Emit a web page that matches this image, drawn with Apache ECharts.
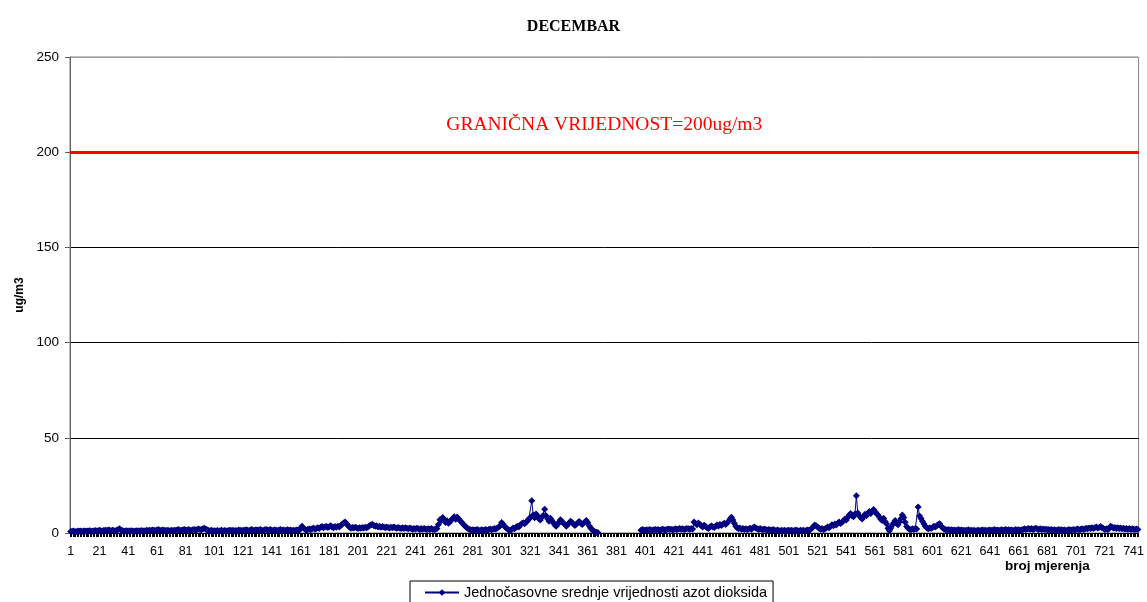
<!DOCTYPE html>
<html>
<head>
<meta charset="utf-8">
<title>DECEMBAR</title>
<script src="https://cdn.jsdelivr.net/npm/echarts@6/dist/echarts.min.js"></script>
<style>
  html, body { margin: 0; padding: 0; background: #fff; }
  #chart { width: 1147px; height: 602px; }
</style>
</head>
<body>
<div id="chart"></div>
<script>
// hourly NO2 averages, December (744 measurements), null = no data
const no2 = [
  0.8,0.9,1,0.8,0.7,1,0.9,1,0.8,1.1, 1,0.9,1,1.2,1,0.9,1.1,1.3,1,1.2,
  1.4,1.2,1,1.3,1.5,1.2,1.6,1.4,1.2,1.5, 1.3,1.1,1.4,1.9,2.2,1.6,1.2,1,1.1,1.2,
  1,1.1,1.2,1,0.9,1.1,1.2,1,1.1,1.3, 1,1.2,1.1,1.4,1.2,1.5,1.3,1.6,1.5,1.2,
  1.6,1.8,1.5,1.3,1.6,1.4,1.2,1.5,1.3,1.1, 1.4,1.2,1.5,1.3,1.6,1.8,1.5,1.3,1.6,1.9,
  1.6,1.4,1.8,1.5,1.3,1.7,1.9,1.6,1.8,2.1, 1.9,1.7,2.2,2.5,2.1,1.6,1.3,1.2,1.4,1.1,
  1.2,1,1.3,1.1,1.2,1.4,1.1,1.3,1.2,1, 1.3,1.5,1.2,1.4,1.1,1.3,1.2,1.6,1.4,1.2,
  1.5,1.3,1.7,1.4,1.2,1.6,1.9,1.5,1.3,1.7, 1.4,1.6,1.8,1.5,1.3,1.7,1.9,1.6,1.4,1.8,
  1.5,1.3,1.7,1.5,1.2,1.6,1.8,1.4,1.6,1.3, 1.5,1.7,1.4,1.6,1.3,1.5,1.2,1.6,1.4,1.3,
  2.5,3.5,2.8,2,1.5,1.8,2.1,1.7,2.2,2.6, 2,2.4,2.8,2.3,3,3.4,2.7,3.1,3.5,2.9,
  3.3,3.8,3.2,2.8,3.4,3,3.6,3.2,3.9,4.6, 5.2,5.8,4.9,4,3.1,2.5,2.9,2.6,3,2.7,
  2.4,2.8,2.5,2.9,2.6,3,2.7,3.2,3.8,4.2, 4.6,4,3.5,3.8,3.2,3.6,3,3.4,3.1,2.8,
  3.2,2.9,2.6,3,2.7,3.1,2.8,2.5,2.9,2.6, 2.3,2.7,2.4,2.8,2.5,2.2,2.6,2.3,2,2.4,
  2.1,2.5,2.2,1.9,2.3,2,2.4,2.1,1.8,2.2, 1.9,2.3,2,1.8,2.1,2.4,4.5,7,6.5,8.2,
  7,5.5,6.4,5.1,5.8,6.8,7.6,8.5,7.2,8.4, 7.5,6.6,5.8,4.9,4.1,3.3,2.6,2.1,1.8,1.5,
  1.7,1.4,1.6,1.9,1.5,1.3,1.7,1.4,1.6,1.9, 1.5,1.8,2.1,1.7,2,2.4,2.1,2.6,3.2,3.8,
  5.5,4.6,3.6,2.8,2.1,1.6,1.3,1.9,2.6,2.2, 3,3.6,3.1,4.2,4.8,5.4,4.9,5.6,6.3,7.5,
  8,17,9.5,8,10,9,7.5,6.8,8.4,9.2, 12.5,9,7.5,6.2,7.8,6.6,5.4,4.2,3.5,4.6,
  5.8,6.9,6.1,5.2,4.4,3.6,4.5,5.3,6.2,5.5, 4.7,3.9,4.6,5.4,6,5.2,4.4,5.1,5.8,6.6,
  5.4,3.8,2.6,1.8,1.1,0.6,0.3,0.2,null,null, null,null,null,null,null,null,null,null,null,null,
  null,null,null,null,null,null,null,null,null,null, null,null,null,null,null,null,null,1.5,1.8,1.6,
  1.4,1.7,1.5,1.8,1.6,1.4,1.7,1.9,1.6,1.8, 1.5,1.7,2,1.8,1.6,1.9,2.1,1.8,2,1.7,
  1.9,2.2,1.9,2.1,2.3,2,2.2,1.9,2.1,2.4, 2.2,2,2.3,2.1,5.8,5,4.3,5.2,4.6,3.8,
  3.2,4.1,3.5,2.8,2.4,3.1,3.7,3.3,2.9,3.6, 4.2,3.7,4.4,3.9,4.6,5.1,4.5,5.3,6.2,7.4,
  8.3,6.8,5.1,3.6,2.7,2.2,2.6,2,2.4,1.9, 2.2,1.8,2.1,2.5,2,2.7,3.2,2.6,2.2,1.9,
  2.3,2,1.7,2.1,1.8,1.5,1.9,1.6,1.4,1.8, 1.5,1.2,1.6,1.3,1.1,1.5,1.2,1.4,1.1,1.3,
  1.5,1.2,1.4,1.1,1.3,1.6,1.2,1,1.4,1.2, 1.5,1.1,1.3,1.6,1.4,1.8,2.5,3.3,4.2,3.8,
  3.1,2.5,2,2.3,1.8,2.1,2.6,3.2,2.7,3.6, 4.3,3.8,4.7,4.2,5.1,5.8,5,5.6,6.3,7.4,
  6.8,8.1,9.5,10.2,9,8.5,10,19.5,10.5,9, 8.2,7.3,8.6,9.8,9.1,10.4,11.3,10.2,11.6,12.3,
  11.1,10.2,9.5,8.4,7.2,6.5,7.8,6.1,4.8,2.5, 1.2,2.6,4.1,5.3,6.5,5.2,4.3,5.8,7.5,9.4,
  8.2,5.6,3.4,2.5,2,1.7,2.2,1.9,2.4,2.1, 13.6,8.9,7.6,6.2,4.8,3.6,2.7,2.2,2.6,2.3,
  2.9,3.5,3.1,3.8,4.4,4.8,3.6,2.7,2.1,1.8, 1.6,1.9,1.5,1.7,1.4,1.6,1.3,1.5,1.8,1.4,
  1.6,1.3,1.5,1.2,1.4,1.7,1.3,1.5,1.2,1.4, 1.1,1.3,1.5,1.2,1.4,1.6,1.3,1.5,1.2,1.4,
  1.6,1.3,1.5,1.8,1.4,1.6,1.3,1.5,1.7,1.4, 1.6,1.9,1.5,1.7,1.4,1.6,1.3,1.5,1.8,1.5,
  1.7,1.4,1.6,1.9,2.2,1.8,2.1,2.4,2,2.3, 1.9,2.2,2.5,2.1,1.8,2.2,1.9,2.1,1.8,2,
  1.7,1.9,1.6,1.8,1.5,1.7,1.4,1.6,1.9,1.5, 1.7,1.4,1.6,1.3,1.5,1.8,1.4,1.6,1.9,1.6,
  1.8,2.1,1.7,1.9,2.2,1.8,2.1,2.5,2.2,2.6, 2.3,2.8,2.4,2.7,3.1,2.6,2.9,3.4,2.8,2.3,
  1.9,2.2,1.8,2.3,3.5,3.1,2.6,2.9,2.4,2.7, 2.3,2.6,2.2,2.5,2.1,2.4,2,2.3,1.9,2.2,
  2,1.8,2.1,1.9
];
// measurement numbers 1..744
const mjerenja = no2.map((v, i) => String(i + 1));
const limitValue = 200;
const limitText = 'GRANIČNA VRIJEDNOST=200ug/m3';
const seriesName = 'Jednočasovne srednje vrijednosti azot dioksida';

const chart = echarts.init(document.getElementById('chart'), null, { renderer: 'canvas' });

const option = {
  animation: false,
  backgroundColor: '#fff',
  textStyle: { fontFamily: 'Liberation Sans, Arial, sans-serif' },
  title: {
    text: 'DECEMBAR',
    left: 'center',
    top: 14,
    textStyle: {
      fontFamily: 'Liberation Serif, Times New Roman, serif',
      fontSize: 16,
      fontWeight: 'bold',
      color: '#000'
    }
  },
  legend: {
    data: [seriesName],
    left: 410,
    top: 581,
    padding: [4, 6, 6, 14],
    borderColor: '#000',
    borderWidth: 1,
    borderRadius: 0,
    itemWidth: 34,
    itemHeight: 8,
    itemGap: 4,
    textStyle: { fontSize: 14.5, color: '#000', fontFamily: 'Liberation Sans, Arial, sans-serif' }
  },
  grid: {
    left: 70,
    right: 7,
    top: 57,
    bottom: 69,
    show: true,
    borderColor: '#808080',
    borderWidth: 1
  },
  xAxis: {
    type: 'category',
    data: mjerenja,
    boundaryGap: true,
    axisLine: { lineStyle: { color: '#000', width: 1 } },
    axisTick: { show: true, interval: 0, length: 4, lineStyle: { color: '#000' } },
    axisLabel: { interval: 19, color: '#000', fontSize: 12.5, margin: 12 },
    splitLine: { show: false }
  },
  yAxis: {
    type: 'value',
    min: 0,
    max: 250,
    interval: 50,
    name: 'ug/m3',
    nameLocation: 'middle',
    nameGap: 44,
    nameTextStyle: { fontWeight: 'bold', fontSize: 12, color: '#000' },
    axisLine: { show: true, lineStyle: { color: '#606060' } },
    axisTick: { show: true, length: 5, lineStyle: { color: '#606060' } },
    axisLabel: { color: '#000', fontSize: 13.5, margin: 11 },
    splitLine: {
      show: true,
      lineStyle: { color: ['#000', '#000', '#000', '#000', '#000', '#a0a0a0'], width: 1 }
    }
  },
  graphic: [
    {
      type: 'text',
      left: 1005,
      top: 559,
      style: {
        text: 'broj mjerenja',
        fontFamily: 'Liberation Sans, Arial, sans-serif',
        fontSize: 13.5,
        fontWeight: 'bold',
        fill: '#000'
      }
    }
  ],
  series: [
    {
      name: seriesName,
      type: 'line',
      data: no2,
      connectNulls: false,
      symbol: 'diamond',
      symbolSize: 7,
      showAllSymbol: true,
      color: '#000080',
      itemStyle: { color: '#000080' },
      lineStyle: { color: '#000080', width: 1 },
      markLine: {
        silent: true,
        symbol: 'none',
        data: [{ yAxis: limitValue }],
        lineStyle: { color: '#ff0000', width: 3, type: 'solid' },
        label: {
          show: true,
          position: 'middle',
          formatter: limitText,
          distance: 17,
          color: '#ff0000',
          fontFamily: 'Liberation Serif, Times New Roman, serif',
          fontSize: 19.5,
          fontWeight: 'normal'
        }
      }
    }
  ]
};

chart.setOption(option);
</script>
</body>
</html>
